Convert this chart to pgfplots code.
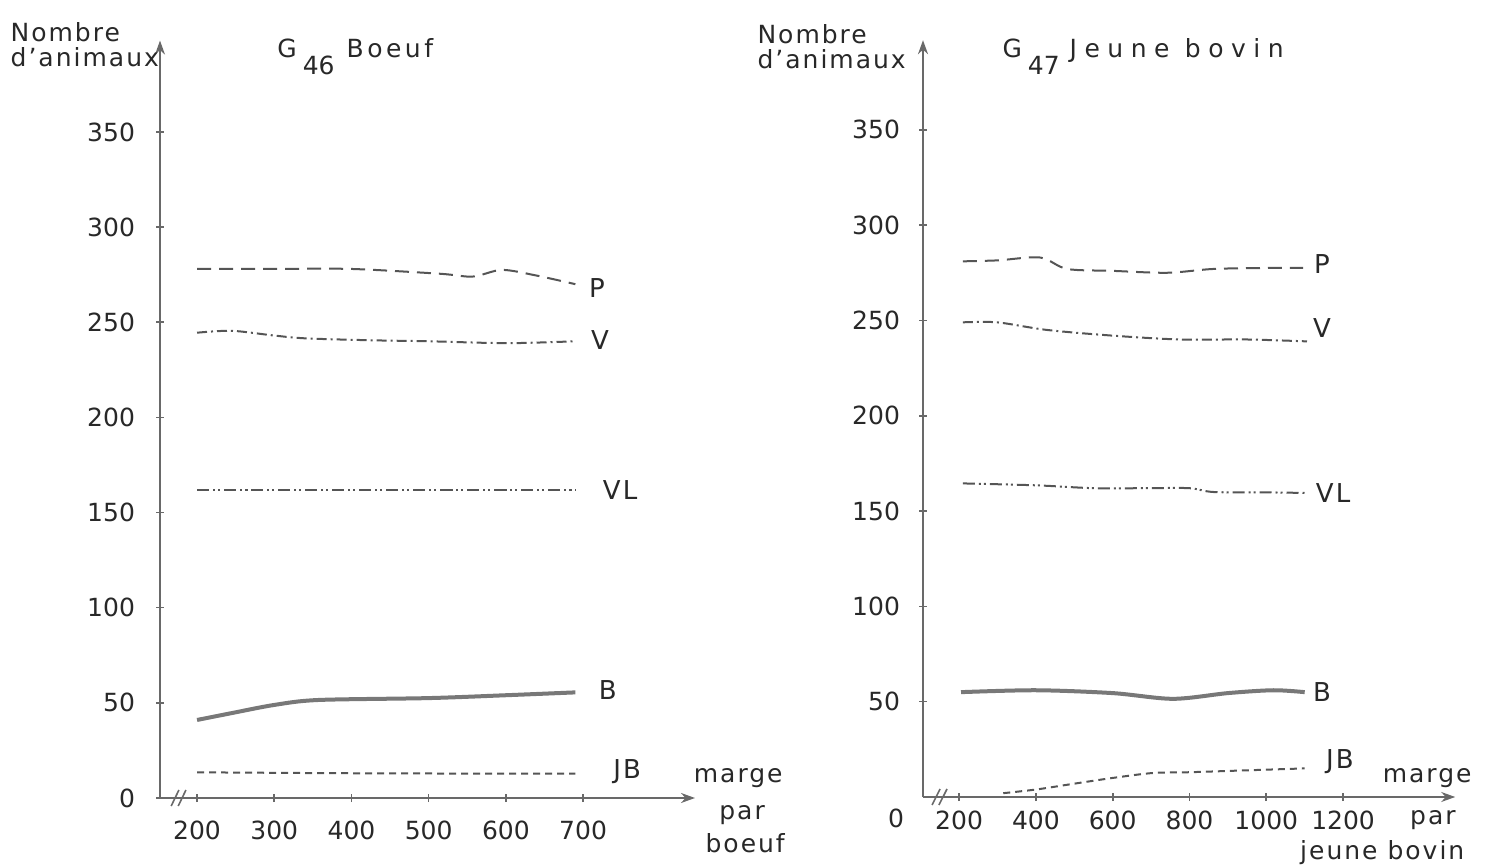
\documentclass[border=0pt]{standalone}
\usepackage{fontspec}
\setmainfont{DejaVu Sans}[LetterSpace=8]
\newfontfamily\numfont{DejaVu Sans}
\newfontfamily\widefont{DejaVu Sans}[LetterSpace=30]
\newfontfamily\midfont{DejaVu Sans}[LetterSpace=14]
\usepackage{pgfplots}
\pgfplotsset{compat=1.18}
\usetikzlibrary{arrows.meta}
\definecolor{ink}{RGB}{40,40,40}
\definecolor{pen}{RGB}{85,85,85}
\definecolor{penB}{RGB}{120,120,120}
\definecolor{axisc}{RGB}{105,105,105}

\pgfplotsset{
 myaxis/.style={
  scale only axis, axis lines=left, clip=false, anchor=south west,
  axis line style={axisc, line width=0.9pt, -{Stealth[length=7pt,width=5pt]}},
  tick style={axisc, line width=0.8pt}, major tick length=4pt, tick align=center,
  ymin=0,
  every tick label/.append style={font=\numfont\fontsize{12.5}{14}\selectfont, text=ink},
  /pgf/number format/assume math mode=true,
  /pgf/number format/1000 sep={},
 },
 lblP/.style={pen, line width=1pt, dash pattern=on 7pt off 4pt, smooth, tension=0.5},
 lblV/.style={pen, line width=1pt, dash pattern=on 5pt off 2pt on 1pt off 2pt, smooth, tension=0.5},
 lblVL/.style={pen, line width=1pt, dash pattern=on 6pt off 2pt on 1pt off 1.5pt on 1pt off 2pt, smooth, tension=0.5},
 lblB/.style={penB, line width=2pt, smooth, tension=0.5},
 lblJB/.style={pen, line width=1pt, dash pattern=on 3.5pt off 2.5pt, smooth, tension=0.5},
}
\tikzset{
 cl/.style={font=\fontsize{13}{15}\selectfont, text=ink, inner sep=0pt},
 tl/.style={font=\fontsize{12.5}{12.5}\selectfont, text=ink, inner sep=0pt},
}

\begin{document}
\begin{tikzpicture}
\useasboundingbox (0,0) rectangle (746pt,433pt);

% ---------------- left panel: G46 Boeuf
\begin{axis}[myaxis, at={(80pt,34pt)},
  width=267.5pt, height=378.7pt,
  xmin=152, xmax=845, ymax=398,
  xtick={200,300,400,500,600,700},
  ytick={0,50,100,150,200,250,300,350},
  yticklabel style={xshift=-7pt},
  xticklabel style={yshift=-6pt},
]
\addplot[lblP] coordinates {(200,278) (300,278) (400,278) (514,275.5) (557,274) (595,277.5) (640,274.5) (690,270)};
\addplot[lblV] coordinates {(200,244.5) (245,245.5) (300,243) (342,241.5) (428,240.5) (500,240) (602,239) (690,240)};
\addplot[lblVL] coordinates {(200,162) (300,162) (400,162) (500,162) (600,162) (690,162)};
\addplot[lblB] coordinates {(200,41) (246,44.7) (300,48.9) (357,51.5) (500,52.5) (600,54) (690,55.5)};
\addplot[lblJB] coordinates {(200,13.5) (400,13) (600,12.8) (690,12.8)};
\draw[axisc, line width=0.8pt] (axis cs:166.5,-4.2) -- (axis cs:176.5,4.2);
\draw[axisc, line width=0.8pt] (axis cs:175.6,-4.2) -- (axis cs:185.6,4.2);
\node[cl] at (axis cs:718,268) {P};
\node[cl] at (axis cs:722,240.5) {V};
\node[cl] at (axis cs:748,162) {VL};
\node[cl] at (axis cs:732,56.5) {B};
\node[cl] at (axis cs:757,13.7) {JB};
\node[tl] at (axis cs:901,10.5) {marge};
\node[tl] at (axis cs:906,-9) {par};
\node[tl] at (axis cs:910,-23.6) {boeuf};
\node[tl, anchor=west, align=left] at (axis cs:-42,395.7) {Nombre\\d'animaux};
\node[tl, anchor=base west, font=\midfont\fontsize{12.5}{12.5}\selectfont] at (axis cs:303.6,388.9) {G\hspace{3pt}\raisebox{-8.5pt}{\numfont\fontsize{12.5}{12}\selectfont 46}\hspace{6pt}Boeuf};
\end{axis}

% ---------------- right panel: G47 Jeune bovin
\begin{axis}[myaxis, at={(461.5pt,34.5pt)},
  width=266.1pt, height=378.4pt,
  xmin=106, xmax=1492, ymax=397,
  xtick={200,400,600,800,1000,1200},
  ytick={50,100,150,200,250,300,350},
  yticklabel style={xshift=-6pt},
  xticklabel style={yshift=-1.5pt},
]
\addplot[lblP] coordinates {(210,281) (300,281.5) (411,283) (481,277) (600,276) (742,275) (862,277) (1000,277.5) (1096,277.5)};
\addplot[lblV] coordinates {(210,249) (299,249) (429,245) (601,242) (775,240) (950,240) (1106,239)};
\addplot[lblVL] coordinates {(210,164.5) (400,163.5) (550,162) (690,162) (800,162) (862,160) (1000,159.8) (1100,159.5)};
\addplot[lblB] coordinates {(205,55) (400,56) (600,54.5) (757,51.5) (900,54.5) (1018,56) (1100,55)};
\addplot[lblJB] coordinates {(315,2) (403,4) (500,7) (600,10) (705,12.6) (800,13) (950,14) (1100,15)};
\draw[axisc, line width=0.8pt] (axis cs:129.5,-4.2) -- (axis cs:150.5,4.2);
\draw[axisc, line width=0.8pt] (axis cs:147.5,-4.2) -- (axis cs:168.5,4.2);
\node[tl, font=\numfont\fontsize{12.5}{14}\selectfont] at (axis cs:36,-11) {0};
\node[cl] at (axis cs:1145,279.6) {P};
\node[cl] at (axis cs:1145,246) {V};
\node[cl] at (axis cs:1174,159.5) {VL};
\node[cl] at (axis cs:1145,55) {B};
\node[cl] at (axis cs:1192,18.4) {JB};
\node[tl] at (axis cs:1419,10) {marge};
\node[tl] at (axis cs:1434,-12) {par};
\node[tl] at (axis cs:1302,-29) {jeune bovin};
\node[tl, anchor=west, align=left] at (axis cs:-326,393.5) {Nombre\\d'animaux};
\node[tl, anchor=base west, font=\widefont\fontsize{12.5}{12.5}\selectfont] at (axis cs:312,387.7) {G\hspace{3pt}\raisebox{-8.5pt}{\numfont\fontsize{12.5}{12}\selectfont 47}\hspace{5pt}Jeune bovin};
\end{axis}
\end{tikzpicture}
\end{document}
